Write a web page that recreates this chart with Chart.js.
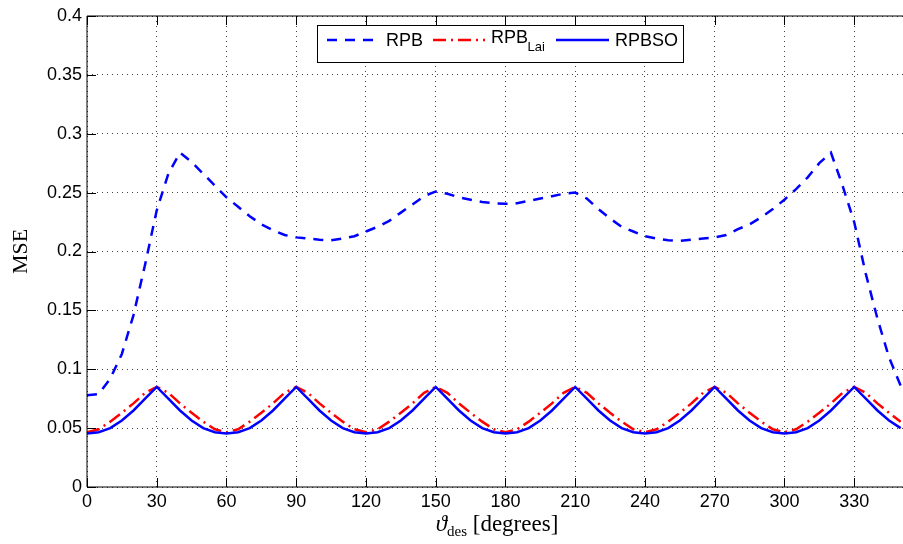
<!DOCTYPE html>
<html>
<head>
<meta charset="utf-8">
<script src="https://cdn.jsdelivr.net/npm/chart.js@4"></script>
<style>
    html, body { margin: 0; padding: 0; background: #fff; }
    #wrap { width: 903px; height: 544px; position: relative; }
</style>
</head>
<body>
<div id="wrap"><canvas id="chart"></canvas></div>
<script>
// Ángulos de apuntamiento (grados) y MSE
const angles = [0, 5, 10, 15, 20, 25, 30, 35, 40, 45, 50, 55, 60, 65, 70, 75, 80, 85, 90, 95,
    100, 105, 110, 115, 120, 125, 130, 135, 140, 145, 150, 155, 160, 165, 170, 175, 180, 185, 190, 195,
    200, 205, 210, 215, 220, 225, 230, 235, 240, 245, 250, 255, 260, 265, 270, 275, 280, 285, 290, 295,
    300, 305, 310, 315, 320, 325, 330, 335, 340, 345, 350];

const rpb = [0.078, 0.079, 0.092, 0.113, 0.146, 0.189, 0.235, 0.266, 0.284, 0.276, 0.266, 0.256,
    0.246, 0.238, 0.230, 0.223, 0.218, 0.214, 0.212, 0.211, 0.210, 0.2095, 0.211, 0.213,
    0.217, 0.221, 0.226, 0.233, 0.240, 0.247, 0.251, 0.249, 0.246, 0.244, 0.242, 0.241,
    0.2405, 0.241, 0.243, 0.245, 0.247, 0.249, 0.250, 0.245, 0.236, 0.228, 0.221, 0.217,
    0.213, 0.211, 0.2095, 0.209, 0.210, 0.211, 0.212, 0.214, 0.219, 0.223, 0.229, 0.236,
    0.244, 0.253, 0.263, 0.275, 0.284, 0.256, 0.225, 0.181, 0.143, 0.110, 0.086];

const rpbLai = [0.0465, 0.049, 0.0555, 0.063, 0.071, 0.080, 0.085, 0.080, 0.071, 0.063, 0.0555, 0.049,
    0.0465, 0.049, 0.0555, 0.063, 0.071, 0.080, 0.085, 0.080, 0.071, 0.063, 0.0555, 0.049,
    0.0465, 0.049, 0.0555, 0.063, 0.071, 0.080, 0.085, 0.080, 0.071, 0.063, 0.0555, 0.049,
    0.0465, 0.049, 0.0555, 0.063, 0.071, 0.080, 0.085, 0.080, 0.071, 0.063, 0.0555, 0.049,
    0.0465, 0.049, 0.0555, 0.063, 0.071, 0.080, 0.085, 0.080, 0.071, 0.063, 0.0555, 0.049,
    0.0465, 0.049, 0.0555, 0.063, 0.071, 0.080, 0.085, 0.080, 0.071, 0.063, 0.0555];

const rpbso = [0.0455, 0.0465, 0.050, 0.0565, 0.065, 0.075, 0.085, 0.075, 0.065, 0.0565, 0.050, 0.0465,
    0.0455, 0.0465, 0.050, 0.0565, 0.065, 0.075, 0.085, 0.075, 0.065, 0.0565, 0.050, 0.0465,
    0.0455, 0.0465, 0.050, 0.0565, 0.065, 0.075, 0.085, 0.075, 0.065, 0.0565, 0.050, 0.0465,
    0.0455, 0.0465, 0.050, 0.0565, 0.065, 0.075, 0.085, 0.075, 0.065, 0.0565, 0.050, 0.0465,
    0.0455, 0.0465, 0.050, 0.0565, 0.065, 0.075, 0.085, 0.075, 0.065, 0.0565, 0.050, 0.0465,
    0.0455, 0.0465, 0.050, 0.0565, 0.065, 0.075, 0.085, 0.075, 0.065, 0.0565, 0.050];

// Marcas de los ejes
const xTicks = [0, 30, 60, 90, 120, 150, 180, 210, 240, 270, 300, 330];
const yTicks = [0, 0.05, 0.1, 0.15, 0.2, 0.25, 0.3, 0.35, 0.4];

const BLUE = '#0000ff'; const RED = '#ff0000';
const SANS = '"Liberation Sans", Arial, Helvetica, sans-serif';
const SERIF = '"Liberation Serif", "Times New Roman", serif';

function puntos(valores) {
    return angles.map((a, i) => ({ x: a, y: valores[i] }));
}

// Marco, marcas hacia dentro, leyenda y títulos de ejes (estilo MATLAB)
const marcoPlugin = {
    id: 'marco',
    afterDatasetsDraw(chart) {
        const { ctx, chartArea: a, scales } = chart;
        ctx.save();
        ctx.strokeStyle = '#000'; ctx.lineWidth = 1; ctx.setLineDash([]);
        ctx.beginPath();
        ctx.moveTo(a.left, a.top); ctx.lineTo(a.right, a.top);
        ctx.moveTo(a.left, a.top); ctx.lineTo(a.left, a.bottom); ctx.lineTo(a.right, a.bottom);
        // marcas hacia dentro
        xTicks.forEach((v) => {
            const px = Math.round(scales.x.getPixelForValue(v)) + 0.5;
            ctx.moveTo(px, a.bottom); ctx.lineTo(px, a.bottom - 9);
            ctx.moveTo(px, a.top); ctx.lineTo(px, a.top + 9);
        });
        yTicks.forEach((v) => {
            const py = Math.round(scales.y.getPixelForValue(v)) + 0.5;
            ctx.moveTo(a.left, py); ctx.lineTo(a.left + 9, py);
        });
        ctx.stroke();

        // Leyenda
        const lx = a.left + 230, ly = a.top + 9;
        ctx.fillStyle = '#fff'; ctx.fillRect(lx, ly, 366, 37);
        ctx.strokeStyle = '#000'; ctx.lineWidth = 1;
        ctx.strokeRect(Math.round(lx) + 0.5, Math.round(ly) + 0.5, 366, 37);
        const sy = ly + 15;
        const muestras = [
            { x1: 10, x2: 63, color: BLUE, dash: [10, 8] },
            { x1: 116, x2: 168, color: RED, dash: [13, 5, 2, 5] },
            { x1: 239, x2: 292, color: BLUE, dash: [] }
        ];
        muestras.forEach((m) => {
            ctx.beginPath(); ctx.strokeStyle = m.color; ctx.lineWidth = 2.5; ctx.setLineDash(m.dash);
            ctx.moveTo(lx + m.x1, sy); ctx.lineTo(lx + m.x2, sy); ctx.stroke();
        });
        ctx.setLineDash([]);
        ctx.fillStyle = '#000'; ctx.textAlign = 'left'; ctx.textBaseline = 'alphabetic';
        ctx.font = '18px ' + SANS;
        ctx.fillText('RPB', lx + 69, ly + 21);
        ctx.fillText('RPB', lx + 174, ly + 17.5);
        ctx.fillText('RPBSO', lx + 298, ly + 21);
        ctx.font = '13px ' + SANS;
        ctx.fillText('Lai', lx + 210.5, ly + 26);

        // Título eje Y
        ctx.font = '22px ' + SERIF;
        ctx.textAlign = 'center'; ctx.textBaseline = 'middle';
        ctx.save();
        ctx.translate(21, (a.top + a.bottom) / 2);
        ctx.rotate(-Math.PI / 2);
        ctx.fillText('MSE', 0, 0);
        ctx.restore();

        // Título eje X: ϑ_des [degrees]
        ctx.textAlign = 'left'; ctx.textBaseline = 'alphabetic';
        const fTheta = 'italic 23px ' + SERIF, fSub = '15px ' + SERIF, fTxt = '23px ' + SERIF;
        ctx.font = fTheta; const w1 = ctx.measureText('\u03D1').width;
        ctx.font = fSub; const w2 = ctx.measureText('des').width;
        ctx.font = fTxt; const w3 = ctx.measureText(' [degrees]').width;
        let x0 = (a.left + a.right) / 2 + 2 - (w1 + w2 + w3) / 2;
        const base = 531;
        ctx.font = fTheta; ctx.fillText('\u03D1', x0, base); x0 += w1;
        ctx.font = fSub; ctx.fillText('des', x0, base + 5); x0 += w2;
        ctx.font = fTxt; ctx.fillText(' [degrees]', x0, base);
        ctx.restore();
    }
};

new Chart(document.getElementById('chart'), {
    type: 'line',
    data: {
        datasets: [
            { label: 'RPB', data: puntos(rpb), borderColor: BLUE, borderWidth: 2.5, borderDash: [10, 8], order: 3 },
            { label: 'RPB_Lai', data: puntos(rpbLai), borderColor: RED, borderWidth: 2.5, borderDash: [13, 5, 2, 5], order: 2 },
            { label: 'RPBSO', data: puntos(rpbso), borderColor: BLUE, borderWidth: 2.5, order: 1 }
        ]
    },
    options: {
        responsive: true, maintainAspectRatio: false, animation: false,
        layout: { padding: { top: 16, left: 0, right: 0, bottom: 0 } },
        elements: { point: { radius: 0 }, line: { tension: 0, fill: false } },
        plugins: { legend: { display: false }, tooltip: { enabled: false } },
        scales: {
            x: {
                type: 'linear', min: 0, max: 351,
                afterBuildTicks: (s) => { s.ticks = xTicks.map((v) => ({ value: v })); },
                afterFit: (s) => { s.height = 57; },
                grid: { color: '#444', lineWidth: 1, drawTicks: false },
                border: { display: false, dash: [1, 4] },
                ticks: { padding: 4, color: '#000', autoSkip: false, maxRotation: 0, font: { family: SANS, size: 18 } }
            },
            y: {
                min: 0, max: 0.4,
                afterBuildTicks: (s) => { s.ticks = yTicks.map((v) => ({ value: v })); },
                afterFit: (s) => { s.width = 87; },
                grid: { color: '#444', lineWidth: 1, drawTicks: false },
                border: { display: false, dash: [1, 4] },
                ticks: { padding: 5, color: '#000', font: { family: SANS, size: 18 }, callback: (v) => String(+v.toFixed(2)) }
            }
        }
    },
    plugins: [marcoPlugin]
});
</script>
</body>
</html>
